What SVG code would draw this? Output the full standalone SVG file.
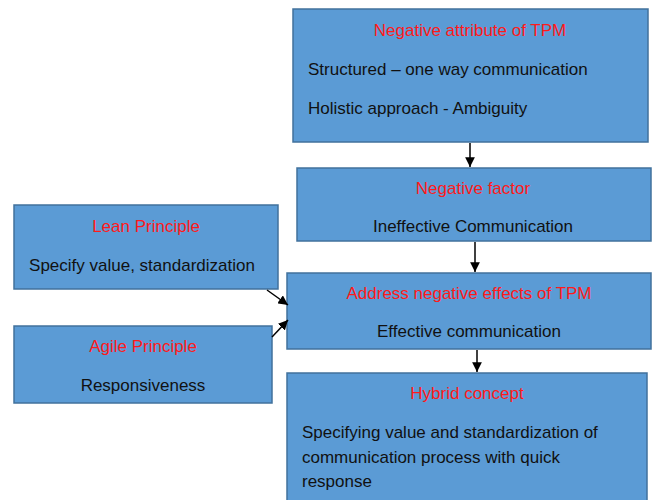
<svg xmlns="http://www.w3.org/2000/svg" width="655" height="500" viewBox="0 0 655 500">
<defs>
<marker id="ah" viewBox="0 0 10 10" refX="10" refY="5" markerWidth="6.5" markerHeight="6.5" orient="auto" markerUnits="strokeWidth">
<path d="M0,0 L10,5 L0,10 z" fill="#000"/>
</marker>
<style>
.box{fill:#5B9BD5;stroke:#41719C;stroke-width:1.5}
.t{font-family:"Liberation Sans",Arial,sans-serif;font-size:17px;fill:#ff1a1a;text-anchor:middle}
.b{font-family:"Liberation Sans",Arial,sans-serif;font-size:17px;fill:#111}
.c{text-anchor:middle}
.ln{stroke:#000;stroke-width:1.5;fill:none;marker-end:url(#ah)}
</style>
</defs>
<rect width="655" height="500" fill="#fff"/>
<g id="neg-attr">
<rect class="box" x="293" y="9" width="355" height="133"/>
<text class="t" x="470" y="36">Negative attribute of TPM</text>
<text class="b" x="308" y="75">Structured – one way communication</text>
<text class="b" x="308" y="114">Holistic approach - Ambiguity</text>
</g>
<g id="neg-factor">
<rect class="box" x="297" y="168" width="354" height="73"/>
<text class="t" x="473" y="194">Negative factor</text>
<text class="b c" x="473" y="232">Ineffective Communication</text>
</g>
<g id="lean">
<rect class="box" x="14" y="205" width="264" height="84"/>
<text class="t" x="146" y="232">Lean Principle</text>
<text class="b c" x="142" y="271">Specify value, standardization</text>
</g>
<g id="agile">
<rect class="box" x="14" y="326" width="258" height="77"/>
<text class="t" x="143" y="352">Agile Principle</text>
<text class="b c" x="143" y="391">Responsiveness</text>
</g>
<g id="address">
<rect class="box" x="287" y="273" width="364" height="76"/>
<text class="t" x="469" y="299">Address negative effects of TPM</text>
<text class="b c" x="469" y="337">Effective communication</text>
</g>
<g id="hybrid">
<rect class="box" x="287" y="373" width="360" height="140"/>
<text class="t" x="467" y="399">Hybrid concept</text>
<text class="b" x="302" y="438">Specifying value and standardization of</text>
<text class="b" x="302" y="463">communication process with quick</text>
<text class="b" x="302" y="487">response</text>
</g>
<g id="connectors">
<line class="ln" x1="470" y1="143" x2="470" y2="167"/>
<line class="ln" x1="475" y1="242" x2="475" y2="272"/>
<line class="ln" x1="477" y1="350" x2="477" y2="372"/>
<line class="ln" x1="267" y1="290" x2="288" y2="305"/>
<line class="ln" x1="272" y1="337" x2="288" y2="320"/>
</g>
</svg>
